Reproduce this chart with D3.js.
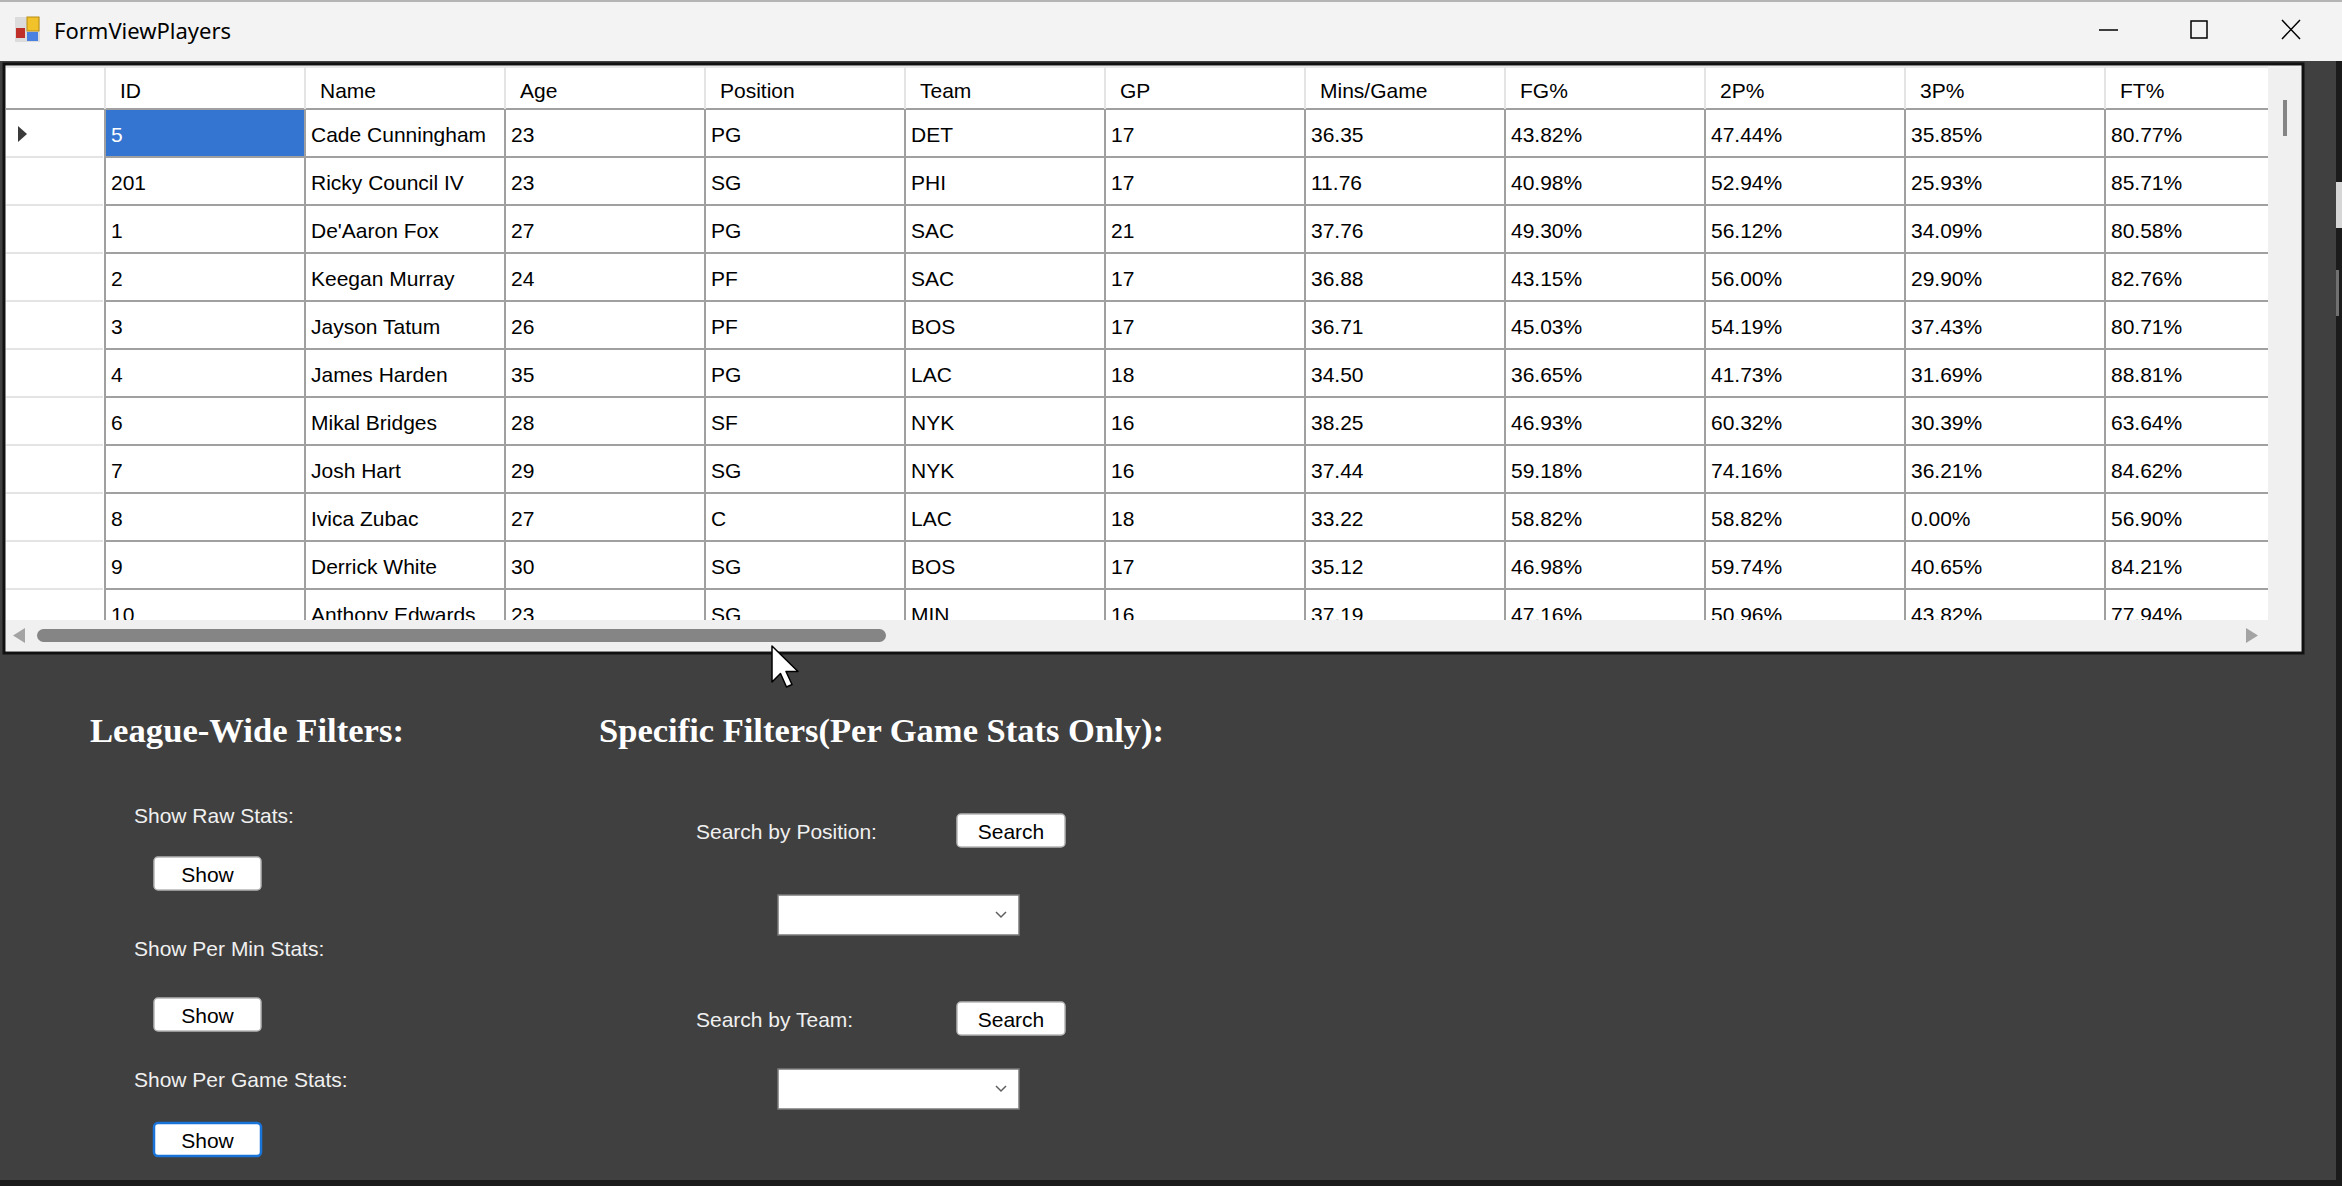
<!DOCTYPE html>
<html>
<head>
<meta charset="utf-8">
<title>FormViewPlayers</title>
<script src="https://cdn.jsdelivr.net/npm/d3@7"></script>
<style>
  html, body { margin: 0; padding: 0; background: #1b1b1b; overflow: hidden; }
  svg { display: block; }
  .cell { font-family: "Liberation Sans", Arial, sans-serif; font-size: 21px; }
  .head { font-family: "Liberation Sans", Arial, sans-serif; font-size: 21px; fill: #000; }
  .heading { font-family: "Liberation Serif", "DejaVu Serif", serif; font-weight: bold; font-size: 34px; fill: #fff; }
  .label { font-family: "Liberation Sans", Arial, sans-serif; font-size: 21px; fill: #f0f0f0; }
  .btn { font-family: "Liberation Sans", Arial, sans-serif; font-size: 21px; fill: #000; }
  .title { font-family: "Noto Sans", "Open Sans", sans-serif; font-size: 22px; fill: #000; }
</style>
</head>
<body>
<svg id="chart"></svg>
<script>
// grid columns and values, one array per column
var columns = ["ID", "Name", "Age", "Position", "Team", "GP", "Mins/Game", "FG%", "2P%", "3P%", "FT%"];
var ids = ["5", "201", "1", "2", "3", "4", "6", "7", "8", "9", "10"];
var names = ["Cade Cunningham", "Ricky Council IV", "De'Aaron Fox", "Keegan Murray", "Jayson Tatum",
  "James Harden", "Mikal Bridges", "Josh Hart", "Ivica Zubac", "Derrick White", "Anthony Edwards"];
var ages = ["23", "23", "27", "24", "26", "35", "28", "29", "27", "30", "23"];
var positions = ["PG", "SG", "PG", "PF", "PF", "PG", "SF", "SG", "C", "SG", "SG"];
var teams = ["DET", "PHI", "SAC", "SAC", "BOS", "LAC", "NYK", "NYK", "LAC", "BOS", "MIN"];
var gamesPlayed = ["17", "17", "21", "17", "17", "18", "16", "16", "18", "17", "16"];
var minsPerGame = ["36.35", "11.76", "37.76", "36.88", "36.71", "34.50", "38.25", "37.44", "33.22", "35.12", "37.19"];
var fgPct = ["43.82%", "40.98%", "49.30%", "43.15%", "45.03%", "36.65%", "46.93%", "59.18%", "58.82%", "46.98%", "47.16%"];
var twoPct = ["47.44%", "52.94%", "56.12%", "56.00%", "54.19%", "41.73%", "60.32%", "74.16%", "58.82%", "59.74%", "50.96%"];
var threePct = ["35.85%", "25.93%", "34.09%", "29.90%", "37.43%", "31.69%", "30.39%", "36.21%", "0.00%", "40.65%", "43.82%"];
var ftPct = ["80.77%", "85.71%", "80.58%", "82.76%", "80.71%", "88.81%", "63.64%", "84.62%", "56.90%", "84.21%", "77.94%"];

var leagueLabels = ["Show Raw Stats:", "Show Per Min Stats:", "Show Per Game Stats:"];
var specificLabels = ["Search by Position:", "Search by Team:"];

var columnValues = [ids, names, ages, positions, teams, gamesPlayed, minsPerGame, fgPct, twoPct, threePct, ftPct];

var width = 2342,
	height = 1186;

var svg = d3.select("#chart")
	.attr("width", width)
	.attr("height", height);

// window body
svg.append("rect").attr("width", width).attr("height", height).attr("fill", "#1b1b1b");
svg.append("rect").attr("width", 2336).attr("height", 1180).attr("fill", "#404040");
svg.append("rect").attr("x", 2336).attr("y", 182).attr("width", 6).attr("height", 46).attr("fill", "#d6d6d6");
svg.append("rect").attr("x", 2336).attr("y", 270).attr("width", 3).attr("height", 46).attr("fill", "#707070");

// title bar
var bar = svg.append("g");
bar.append("rect").attr("width", width).attr("height", 61).attr("fill", "#f3f3f3");
bar.append("rect").attr("width", width).attr("height", 2).attr("fill", "#b4b4b4");
bar.append("rect").attr("x", 15).attr("y", 17).attr("width", 25).attr("height", 25).attr("fill", "#dcdcdc");
bar.append("rect").attr("x", 27).attr("y", 17).attr("width", 12).attr("height", 14).attr("fill", "#f2c22a").attr("stroke", "#b78b10");
bar.append("rect").attr("x", 16).attr("y", 28).attr("width", 9).attr("height", 10).attr("fill", "#c0302a");
bar.append("rect").attr("x", 27).attr("y", 32).attr("width", 11).attr("height", 9).attr("fill", "#4a80e0");
bar.append("text").attr("class", "title").attr("x", 54).attr("y", 31).attr("dy", "0.35em").text("FormViewPlayers");
bar.append("line").attr("x1", 2099).attr("x2", 2118).attr("y1", 30).attr("y2", 30).attr("stroke", "#000").attr("stroke-width", 1.5);
bar.append("rect").attr("x", 2191).attr("y", 21).attr("width", 16).attr("height", 17).attr("fill", "none").attr("stroke", "#000").attr("stroke-width", 1.5);
bar.append("path").attr("d", "M2282,20L2300,39M2300,20L2282,39").attr("stroke", "#000").attr("stroke-width", 1.5);

// data grid
var gridLeft = 6, gridTop = 67, gridRight = 2268, gridBottom = 620,
	rowHeaderRight = 105, headerBottom = 109, rowH = 48, colW = 200;

var x = d3.scaleBand()
	.domain(columns)
	.range([rowHeaderRight, rowHeaderRight + colW * columns.length]);

var y = d3.scaleBand()
	.domain(d3.range(ids.length))
	.range([headerBottom, headerBottom + rowH * ids.length]);

svg.append("rect")
	.attr("x", 4).attr("y", 64).attr("width", 2299).attr("height", 589)
	.attr("fill", "#fff").attr("stroke", "#111").attr("stroke-width", 3);

var grid = svg.append("g");

// selected cell
grid.append("rect")
	.attr("x", x("ID")).attr("y", y(0))
	.attr("width", x.bandwidth()).attr("height", y.bandwidth())
	.attr("fill", "#3375d0");

// row lines
grid.selectAll(".rowline")
	.data(d3.range(ids.length))
	.join("line")
	.attr("x1", rowHeaderRight).attr("x2", gridRight)
	.attr("y1", function(d) { return y(d) + y.bandwidth(); })
	.attr("y2", function(d) { return y(d) + y.bandwidth(); })
	.attr("stroke", "#a0a0a0").attr("stroke-width", 2);

grid.selectAll(".rhline")
	.data(d3.range(ids.length))
	.join("line")
	.attr("x1", gridLeft).attr("x2", rowHeaderRight - 2)
	.attr("y1", function(d) { return y(d) + y.bandwidth(); })
	.attr("y2", function(d) { return y(d) + y.bandwidth(); })
	.attr("stroke", "#e4e4e4").attr("stroke-width", 2);

grid.append("line")
	.attr("x1", gridLeft).attr("x2", gridRight)
	.attr("y1", headerBottom).attr("y2", headerBottom)
	.attr("stroke", "#a0a0a0").attr("stroke-width", 2);

grid.append("line")
	.attr("x1", gridLeft).attr("x2", gridRight)
	.attr("y1", gridTop).attr("y2", gridTop)
	.attr("stroke", "#e8e8e8").attr("stroke-width", 2);

// column lines: light in header, grey in body
grid.selectAll(".colhead")
	.data(columns)
	.join("line")
	.attr("x1", function(d) { return x(d); }).attr("x2", function(d) { return x(d); })
	.attr("y1", gridTop).attr("y2", headerBottom)
	.attr("stroke", "#e4e4e4").attr("stroke-width", 2);

grid.selectAll(".colbody")
	.data(columns)
	.join("line")
	.attr("x1", function(d) { return x(d); }).attr("x2", function(d) { return x(d); })
	.attr("y1", headerBottom).attr("y2", gridBottom)
	.attr("stroke", "#a0a0a0").attr("stroke-width", 2);

// header text
grid.selectAll(".head")
	.data(columns)
	.join("text")
	.attr("class", "head")
	.attr("x", function(d) { return x(d) + 15; })
	.attr("y", (gridTop + headerBottom) / 2 + 3)
	.attr("dy", "0.35em")
	.text(function(d) { return d; });

// cell text
columns.forEach(function(col, ci) {
	grid.selectAll(".c" + ci)
		.data(columnValues[ci])
		.join("text")
		.attr("class", "cell")
		.attr("x", x(col) + 6)
		.attr("y", function(d, i) { return y(i) + y.bandwidth() / 2 + 2; })
		.attr("dy", "0.35em")
		.style("fill", function(d, i) { return (ci === 0 && i === 0) ? "#fff" : "#000"; })
		.text(function(d) { return d; });
});

// current row marker
grid.append("path")
	.attr("d", "M18," + (y(0) + 17) + "L27," + (y(0) + 25) + "L18," + (y(0) + 33) + "Z")
	.attr("fill", "#3a3a3a");

// scrollbars
svg.append("rect").attr("x", gridRight).attr("y", 66).attr("width", 33).attr("height", 585).attr("fill", "#f0f0f0");
svg.append("rect").attr("x", gridLeft).attr("y", gridBottom).attr("width", 2295).attr("height", 31).attr("fill", "#f0f0f0");
svg.append("rect").attr("x", 37).attr("y", 629).attr("width", 849).attr("height", 13).attr("rx", 6.5).attr("fill", "#858585");
svg.append("rect").attr("x", 2283).attr("y", 100).attr("width", 4).attr("height", 36).attr("fill", "#858585");
svg.append("path").attr("d", "M13,635.5L25,628L25,643Z").attr("fill", "#a3a3a3");
svg.append("path").attr("d", "M2258,635.5L2246,628L2246,643Z").attr("fill", "#a3a3a3");

// filter panel
var panel = svg.append("g");
panel.append("text").attr("class", "heading").attr("x", 90).attr("y", 742)
	.attr("textLength", 314).attr("lengthAdjust", "spacingAndGlyphs").text("League-Wide Filters:");
panel.append("text").attr("class", "heading").attr("x", 599).attr("y", 742)
	.attr("textLength", 565).attr("lengthAdjust", "spacingAndGlyphs").text("Specific Filters(Per Game Stats Only):");

var leagueY = [816, 949, 1080],
	leagueBtnY = [857, 998, 1123];

panel.selectAll(".llabel")
	.data(leagueLabels)
	.join("text")
	.attr("class", "label")
	.attr("x", 134)
	.attr("y", function(d, i) { return leagueY[i]; })
	.attr("dy", "0.35em")
	.text(function(d) { return d; });

function button(g, bx, by, w, h, txt, focused) {
	g.append("rect")
		.attr("x", bx).attr("y", by).attr("width", w).attr("height", h).attr("rx", 4)
		.attr("fill", "#fff")
		.attr("stroke", focused ? "#1a73d9" : "#b5b5b5")
		.attr("stroke-width", focused ? 2.5 : 1.5);
	g.append("text")
		.attr("class", "btn")
		.attr("x", bx + w / 2).attr("y", by + h / 2 + 1)
		.attr("dy", "0.35em")
		.attr("text-anchor", "middle")
		.text(txt);
}

leagueBtnY.forEach(function(by, i) {
	button(panel, 154, by, 107, 33, "Show", i === 2);
});

var specY = [832, 1020],
	searchBtnY = [814, 1002],
	comboY = [895, 1069];

panel.selectAll(".slabel")
	.data(specificLabels)
	.join("text")
	.attr("class", "label")
	.attr("x", 696)
	.attr("y", function(d, i) { return specY[i]; })
	.attr("dy", "0.35em")
	.text(function(d) { return d; });

searchBtnY.forEach(function(by) {
	button(panel, 957, by, 108, 33, "Search", false);
});

comboY.forEach(function(cy) {
	panel.append("rect")
		.attr("x", 778).attr("y", cy).attr("width", 241).attr("height", 40)
		.attr("fill", "#fff").attr("stroke", "#7a7a7a").attr("stroke-width", 1.5);
	panel.append("path")
		.attr("d", "M996," + (cy + 17) + "L1001," + (cy + 22) + "L1006," + (cy + 17))
		.attr("fill", "none").attr("stroke", "#606060").attr("stroke-width", 1.5);
});

// mouse pointer
svg.append("path")
	.attr("d", "M772,646L772,682L780.5,673.5L786.5,687L792,684.5L786,671.5L798,671.5Z")
	.attr("fill", "#fff").attr("stroke", "#000").attr("stroke-width", 1.5)
	.attr("stroke-linejoin", "round");
</script>
</body>
</html>
